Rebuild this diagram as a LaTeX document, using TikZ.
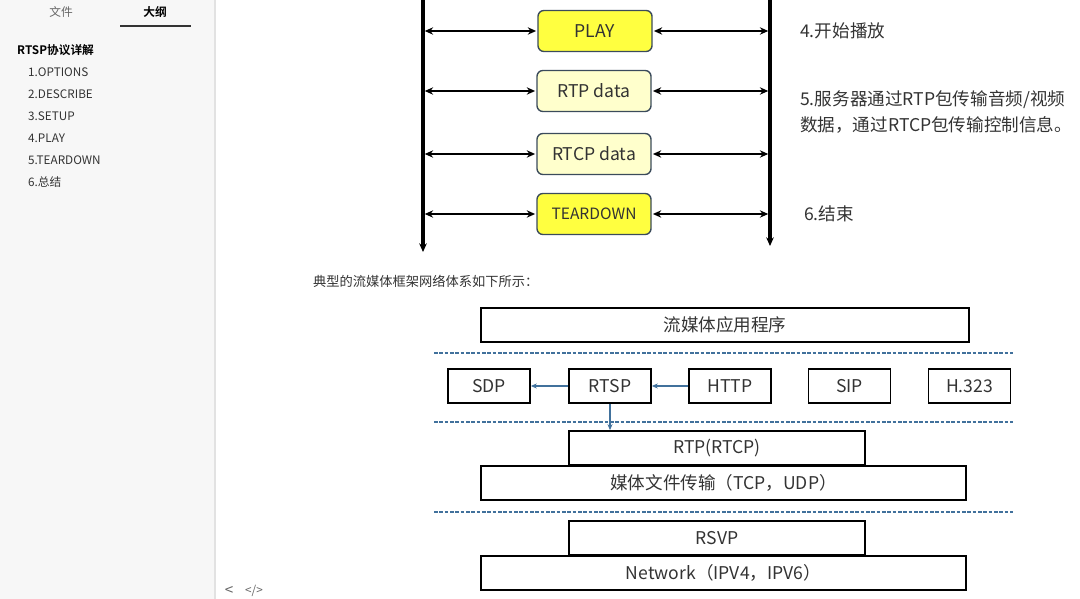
\documentclass[tikz,border=0pt]{standalone}
\usepackage{fontspec}
\setmainfont{Noto Sans CJK SC}[BoldFont={Noto Sans CJK SC Bold}]
\usetikzlibrary{arrows.meta}
\definecolor{pane}{HTML}{F7F7F7}
\definecolor{paneline}{HTML}{E2E2E2}
\definecolor{tabgray}{HTML}{666666}
\definecolor{ink}{HTML}{333333}
\definecolor{msgyellow}{HTML}{FFFF40}
\definecolor{datayellow}{HTML}{FFFFCC}
\definecolor{boxedge}{HTML}{3B4B5B}
\definecolor{layerblue}{HTML}{41719C}
\newcommand{\fs}[1]{\fontsize{#1}{#1}\selectfont}

\begin{document}
\begin{tikzpicture}[x=0.03cm, y=-0.03cm, every node/.style={inner sep=0pt, text=ink},
    outline/.style={font=\fs{10}, anchor=west},
    msg/.style={draw=boxedge, line width=1.2pt, rounded corners=5pt, minimum width=3.42cm, minimum height=1.23cm, font=\fs{15}},
    note/.style={font=\fs{15}, anchor=west, align=left},
    layer/.style={draw=black, line width=1.4pt, minimum height=1.02cm, font=\fs{15}},
    proto/.style={layer, minimum width=2.46cm},
    sep/.style={layerblue, line width=1.2pt, dash pattern=on 1.1mm off 0.5mm},
    flow/.style={layerblue, line width=1pt, -{Stealth[length=1.8mm, width=1.5mm]}},
    sig/.style={line width=1.8pt, {Stealth[length=2.5mm, width=2.2mm]}-{Stealth[length=2.5mm, width=2.2mm]}}]
  \useasboundingbox (0,0) rectangle (1080,599);

  % sidebar
  \fill[pane] (0,0) rectangle (215,599);
  \draw[paneline, line width=1pt] (215,0) -- (215,599);
  \node[font=\fs{10}, text=tabgray] (tabfile) at (61,12) {文件};
  \node[font=\fs{10}\bfseries, text=black] (tabtoc) at (155,12) {大纲};
  \draw[black!80, line width=2.5pt] (120,26) -- (191,26);
  \node[outline, font=\fs{10}\bfseries, text=black] (toc) at (17,50) {RTSP协议详解};
  \node[outline] (toc1) at (28,72) {1.OPTIONS};
  \node[outline] (toc2) at (28,94) {2.DESCRIBE};
  \node[outline] (toc3) at (28,116) {3.SETUP};
  \node[outline] (toc4) at (28,138) {4.PLAY};
  \node[outline] (toc5) at (28,160) {5.TEARDOWN};
  \node[outline] (toc6) at (28,182) {6.总结};
  \node[font=\fs{13}, text=tabgray] (back) at (229,591) {<};
  \node[font=\fs{10}, text=tabgray] (src) at (254,591) {</>};

  % session flow
  \coordinate (cltop) at (423,0);
  \coordinate (clbot) at (423,252);
  \coordinate (svtop) at (770,0);
  \coordinate (svbot) at (770,246);
  \draw[line width=2.6pt, -{Stealth[length=2.6mm, width=2.3mm]}] (cltop) -- (clbot);
  \draw[line width=2.6pt, -{Stealth[length=2.6mm, width=2.3mm]}] (svtop) -- (svbot);

  \node[msg, fill=msgyellow] (play) at (595,31) {PLAY};
  \node[msg, fill=datayellow] (rtp) at (594,91) {RTP data};
  \node[msg, fill=datayellow] (rtcp) at (594,154) {RTCP data};
  \node[msg, fill=msgyellow, font=\fs{13.3}] (teardown) at (594,214) {TEARDOWN};
  \foreach \m in {play, rtp, rtcp, teardown} {
    \draw[sig] ([xshift=1.5pt]cltop |- \m.west) -- ([xshift=-1pt]\m.west);
    \draw[sig] ([xshift=1pt]\m.east) -- ([xshift=-1.5pt]svtop |- \m.east);
  }

  \node[note] (n4) at (800,31) {4.开始播放};
  \node[note] (n5) at (800,112) {5.服务器通过RTP包传输音频/视频\\[5pt]数据，通过RTCP包传输控制信息。};
  \node[note] (n6) at (804,214) {6.结束};

  \node[font=\fs{11.3}, anchor=west] (caption) at (313,281) {典型的流媒体框架网络体系如下所示：};

  % protocol stack
  \node[layer, minimum width=14.64cm] (app) at (725,325) {流媒体应用程序};
  \node[proto] (sdp) at (489,386) {SDP};
  \node[proto] (rtsp) at (610,386) {RTSP};
  \node[proto] (http) at (730,386) {HTTP};
  \node[proto] (sip) at (849.5,386) {SIP};
  \node[proto] (h323) at (969.5,386) {H.323};
  \node[layer, minimum width=8.88cm] (rtpl) at (717,448) {RTP(RTCP)};
  \node[layer, minimum width=14.55cm] (media) at (723.5,483) {媒体文件传输（TCP，UDP）};
  \node[layer, minimum width=8.88cm] (rsvp) at (717,538) {RSVP};
  \node[layer, minimum width=14.55cm] (net) at (723.5,573) {Network（IPV4，IPV6）};

  \draw[sep] (434,353) -- (1013,353);
  \draw[sep] (434,422) -- (1013,422);
  \draw[sep] (434,512) -- (1013,512);

  \draw[flow] (rtsp) -- (sdp);
  \draw[flow] (http) -- (rtsp);
  \draw[flow] (rtsp) -- (rtsp |- rtpl.north);
\end{tikzpicture}
\end{document}
